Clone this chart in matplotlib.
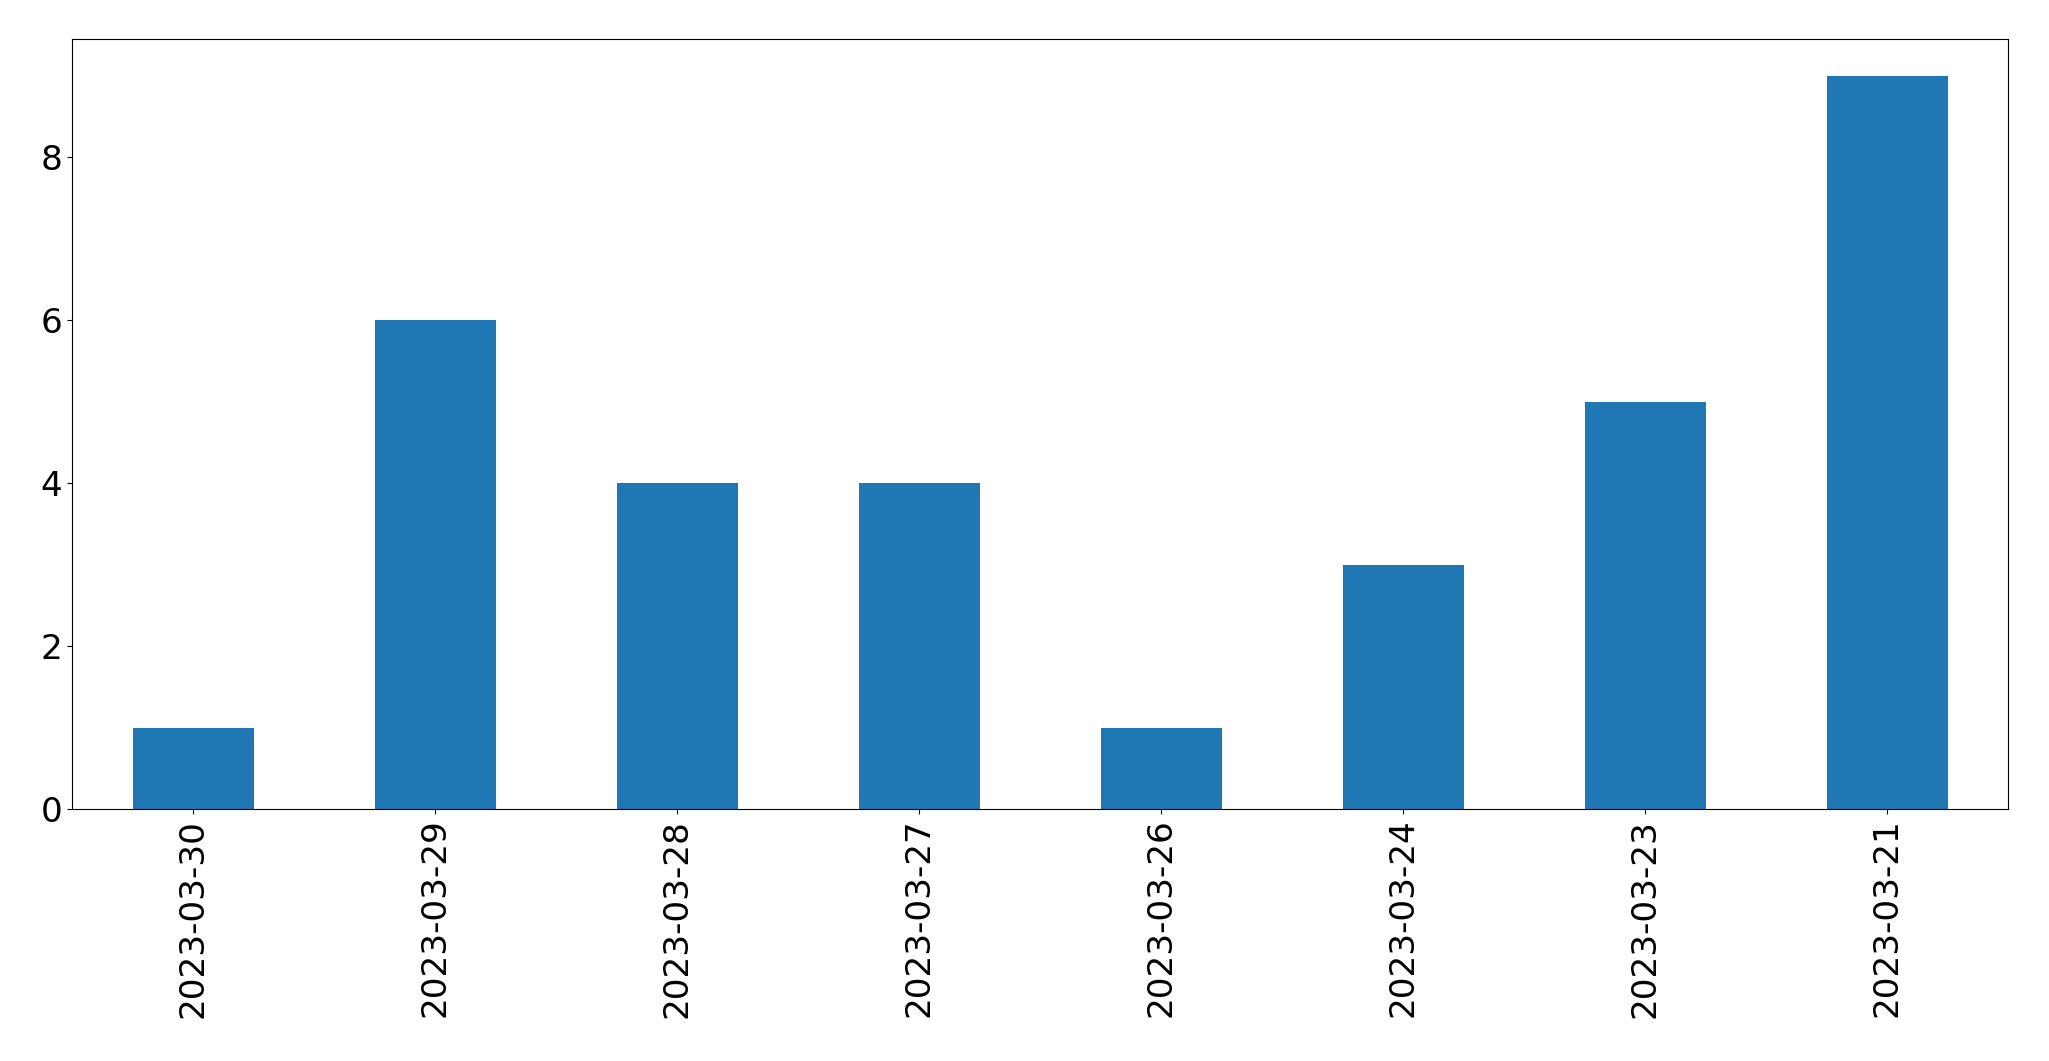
import matplotlib
matplotlib.use("Agg")
import matplotlib.pyplot as plt

dates = ["2023-03-30", "2023-03-29", "2023-03-28", "2023-03-27",
         "2023-03-26", "2023-03-24", "2023-03-23", "2023-03-21"]
counts = [1, 6, 4, 4, 1, 3, 5, 9]

fig = plt.figure(figsize=(20.49, 10.61), dpi=100)
ax = fig.add_axes([0.0352, 0.2375, 0.9448, 0.7255])
x = range(len(dates))
ax.bar(x, counts, width=0.5, color="#1f77b4")
ax.set_xlim(-0.5, len(dates) - 0.5)
ax.set_xticks(list(x))
ax.set_xticklabels(dates, rotation=90, fontsize=24.7)
ax.tick_params(axis="y", labelsize=24.7)
fig.savefig("out.png", dpi=100)
